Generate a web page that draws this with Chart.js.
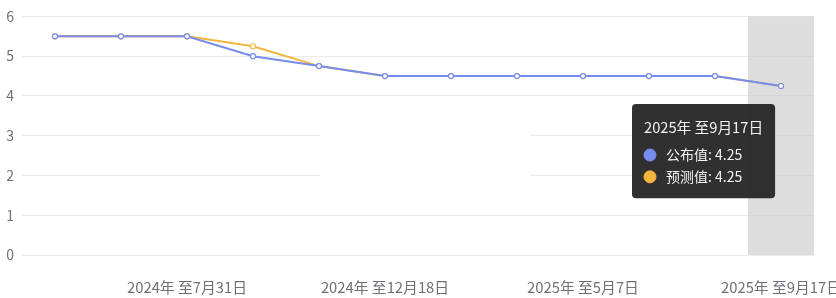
<!DOCTYPE html>
<html lang="zh-CN">
<head>
    <meta charset="UTF-8">
    <title>利率决议</title>
    <script src="https://cdn.jsdelivr.net/npm/chart.js"></script>
    <style>
        html, body { margin: 0; padding: 0; background: #fff; }
        .box { width: 836px; height: 298px; }
    </style>
</head>
<body>
    <div class="box">
        <canvas id="grafico" width="836" height="298"></canvas>
    </div>

    <script>
        const categorias = ['2024年 至5月1日', '2024年 至6月12日', '2024年 至7月31日', '2024年 至9月18日',
            '2024年 至11月7日', '2024年 至12月18日', '2025年 至1月29日', '2025年 至3月19日',
            '2025年 至5月7日', '2025年 至6月18日', '2025年 至7月30日', '2025年 至9月17日'];
        const publicado = [5.5, 5.5, 5.5, 5.0, 4.75, 4.5, 4.5, 4.5, 4.5, 4.5, 4.5, 4.25];
        const previsto = [5.5, 5.5, 5.5, 5.25, 4.75, 4.5, 4.5, 4.5, 4.5, 4.5, 4.5, 4.25];
        const yTicks = [0, 1, 2, 3, 4, 5, 6];
        const destaque = 11;

        const fonte = '"Noto Sans CJK SC", "Noto Sans", sans-serif';

        // faixa cinza do ponto ativo + mancha branca (marca d'agua)
        const faixa = {
            id: 'faixa',
            beforeDatasetsDraw(chart) {
                const { ctx, chartArea, scales } = chart;
                const x = scales.x;
                const meio = x.getPixelForValue(destaque);
                const passo = x.getPixelForValue(1) - x.getPixelForValue(0);
                ctx.save();
                ctx.fillStyle = 'rgba(255,255,255,0.92)';
                ctx.fillRect(320, 126, 210, 56);
                ctx.fillStyle = 'rgba(200,200,200,0.62)';
                ctx.fillRect(meio - passo / 2, chartArea.top, passo, chartArea.bottom - chartArea.top);
                ctx.restore();
            }
        };

        Chart.Tooltip.positioners.fixo = function (elements) {
            if (!elements.length) return false;
            const el = elements[0].element;
            return { x: el.x - 145, y: el.y + 18 };
        };

        const ctx = document.getElementById('grafico').getContext('2d');
        const grafico = new Chart(ctx, {
            type: 'line',
            data: {
                labels: categorias,
                datasets: [{
                    label: '公布值',
                    data: publicado,
                    borderColor: '#778cef',
                    backgroundColor: '#778cef',
                    pointBackgroundColor: '#fff',
                    pointBorderColor: '#778cef',
                    pointRadius: 2.5,
                    pointHoverRadius: 2.5,
                    pointBorderWidth: 1.2,
                    pointHoverBorderWidth: 1.2,
                    borderWidth: 2,
                    tension: 0
                }, {
                    label: '预测值',
                    data: previsto,
                    borderColor: '#f4b53f',
                    backgroundColor: '#f4b53f',
                    pointBackgroundColor: '#fff',
                    pointBorderColor: '#f4b53f',
                    pointRadius: 2.5,
                    pointHoverRadius: 2.5,
                    pointBorderWidth: 1.2,
                    pointHoverBorderWidth: 1.2,
                    borderWidth: 2,
                    tension: 0
                }]
            },
            options: {
                responsive: false,
                animation: false,
                events: [],
                layout: { padding: { top: 15, right: 22, left: 0, bottom: 0 } },
                scales: {
                    x: {
                        offset: true,
                        grid: { display: false, offset: true },
                        border: { display: false },
                        ticks: {
                            autoSkip: false,
                            maxRotation: 0,
                            padding: 15,
                            color: '#6e7079',
                            font: { family: fonte, size: 14.8 },
                            callback: function (v, i) { return i % 3 === 2 ? categorias[i] : ''; }
                        },
                        afterFit(scale) {
                            scale.height = 43;
                            scale.paddingLeft = 0;
                            scale.paddingRight = 0;
                        }
                    },
                    y: {
                        min: 0,
                        max: 6,
                        afterBuildTicks(scale) {
                            scale.ticks = yTicks.map(v => ({ value: v }));
                        },
                        grid: { color: '#ebebeb', drawTicks: false, lineWidth: 1 },
                        border: { display: false },
                        ticks: {
                            padding: 8,
                            color: '#6e7079',
                            font: { family: fonte, size: 14 }
                        },
                        afterFit(scale) {
                            scale.width = 22;
                        }
                    }
                },
                plugins: {
                    legend: { display: false },
                    tooltip: {
                        enabled: true,
                        position: 'fixo',
                        xAlign: 'left',
                        yAlign: 'top',
                        caretSize: 0,
                        caretPadding: 0,
                        cornerRadius: 4,
                        backgroundColor: 'rgba(40,40,40,0.96)',
                        padding: { top: 15, bottom: 13, left: 12, right: 12 },
                        titleColor: '#f2f2f2',
                        bodyColor: '#f2f2f2',
                        titleFont: { family: fonte, size: 14.7, weight: 'normal' },
                        bodyFont: { family: fonte, size: 14 },
                        titleMarginBottom: 10,
                        bodySpacing: 5,
                        usePointStyle: true,
                        boxWidth: 12,
                        boxHeight: 12,
                        boxPadding: 8,
                        multiKeyBackground: 'rgba(0,0,0,0)',
                        callbacks: {
                            label: c => c.dataset.label + ': ' + c.parsed.y,
                            labelColor: c => ({ borderColor: c.dataset.borderColor, backgroundColor: c.dataset.borderColor }),
                            labelPointStyle: () => ({ pointStyle: 'circle', rotation: 0 })
                        }
                    }
                }
            },
            plugins: [faixa]
        });

        const ativos = [{ datasetIndex: 0, index: destaque }, { datasetIndex: 1, index: destaque }];
        grafico.tooltip.setActiveElements(ativos, { x: 781, y: 85 });
        grafico.update();
    </script>
</body>
</html>
